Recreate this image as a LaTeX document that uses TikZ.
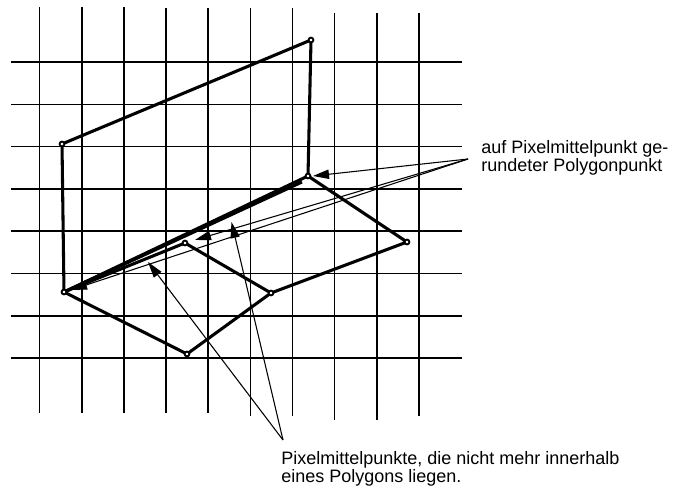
\documentclass[tikz,border=0pt]{standalone}
\usepackage{fontspec}
\setmainfont{Liberation Sans}
\usetikzlibrary{arrows.meta}

\begin{document}
\begin{tikzpicture}[x=0.75pt, y=-0.75pt,
  gridline/.style={line width=1.15pt},
  edge/.style={line width=2.3pt, line join=round},
  vertex/.style={circle, draw, line width=1.4pt, fill=white,
                 inner sep=0pt, minimum size=3.6pt},
  pointer/.style={line width=0.8pt, -{Triangle[length=12pt, width=7pt]}},
  note/.style={font=\fontsize{13.5}{13.5}\selectfont, align=left,
               inner sep=0pt, anchor=north west}]
  \useasboundingbox (0,0) rectangle (675,491);
  % Pixel grid
  \foreach \x/\t/\b in {39.6/7/413, 81.75/7/413, 123.9/7/413, 166.05/8/413,
                        208.2/8/413, 250.35/8/416, 292.5/8/416, 334.65/13/420,
                        376.8/13/420, 418.95/13/416}
    \draw[gridline] (\x,\t) -- (\x,\b);
  \foreach \y in {62, 104.3, 146.6, 188.9, 231.2, 273.5, 315.8, 358.1}
    \draw[gridline] (11,\y) -- (462,\y);
  % Polygon points
  \coordinate (A) at (311,40);
  \coordinate (B) at (62,144);
  \coordinate (C) at (308,176);
  \coordinate (C2) at (302,182);
  \coordinate (D) at (185,243);
  \coordinate (E) at (407,242);
  \coordinate (F) at (64,292);
  \coordinate (G) at (271,293);
  \coordinate (H) at (187,354);
  % Polygon edges
  \draw[edge] (F) -- (B) -- (A) -- (C) -- (F);
  \draw[edge] (F) -- (C2);
  \draw[edge] (C) -- (E) -- (G) -- (H) -- (F);
  \draw[edge] (F) -- (D) -- (G);
  \foreach \p in {A,B,C,D,E,F,G,H}
    \node[vertex] (v\p) at (\p) {};
  % Labels
  \node[note] (roundnote) at (481,140)
    {auf Pixelmittelpunkt ge-\\rundeter Polygonpunkt};
  \node[note] (centernote) at (281,451)
    {Pixelmittelpunkte, die nicht mehr innerhalb\\eines Polygons liegen.};
  % Arrow ends
  \coordinate (roundfork) at (468,159);
  \coordinate (centerfork) at (283,440);
  \coordinate (tipC) at (313,176);
  \coordinate (tipD) at (195,240);
  \coordinate (tipF) at (71,290);
  \coordinate (tipP) at (148,262);
  \coordinate (tipQ) at (231.5,222);
  \foreach \t in {tipC,tipD,tipF}
    \draw[pointer] (roundfork) -- (\t);
  \foreach \t in {tipP,tipQ}
    \draw[pointer] (centerfork) -- (\t);
\end{tikzpicture}
\end{document}
